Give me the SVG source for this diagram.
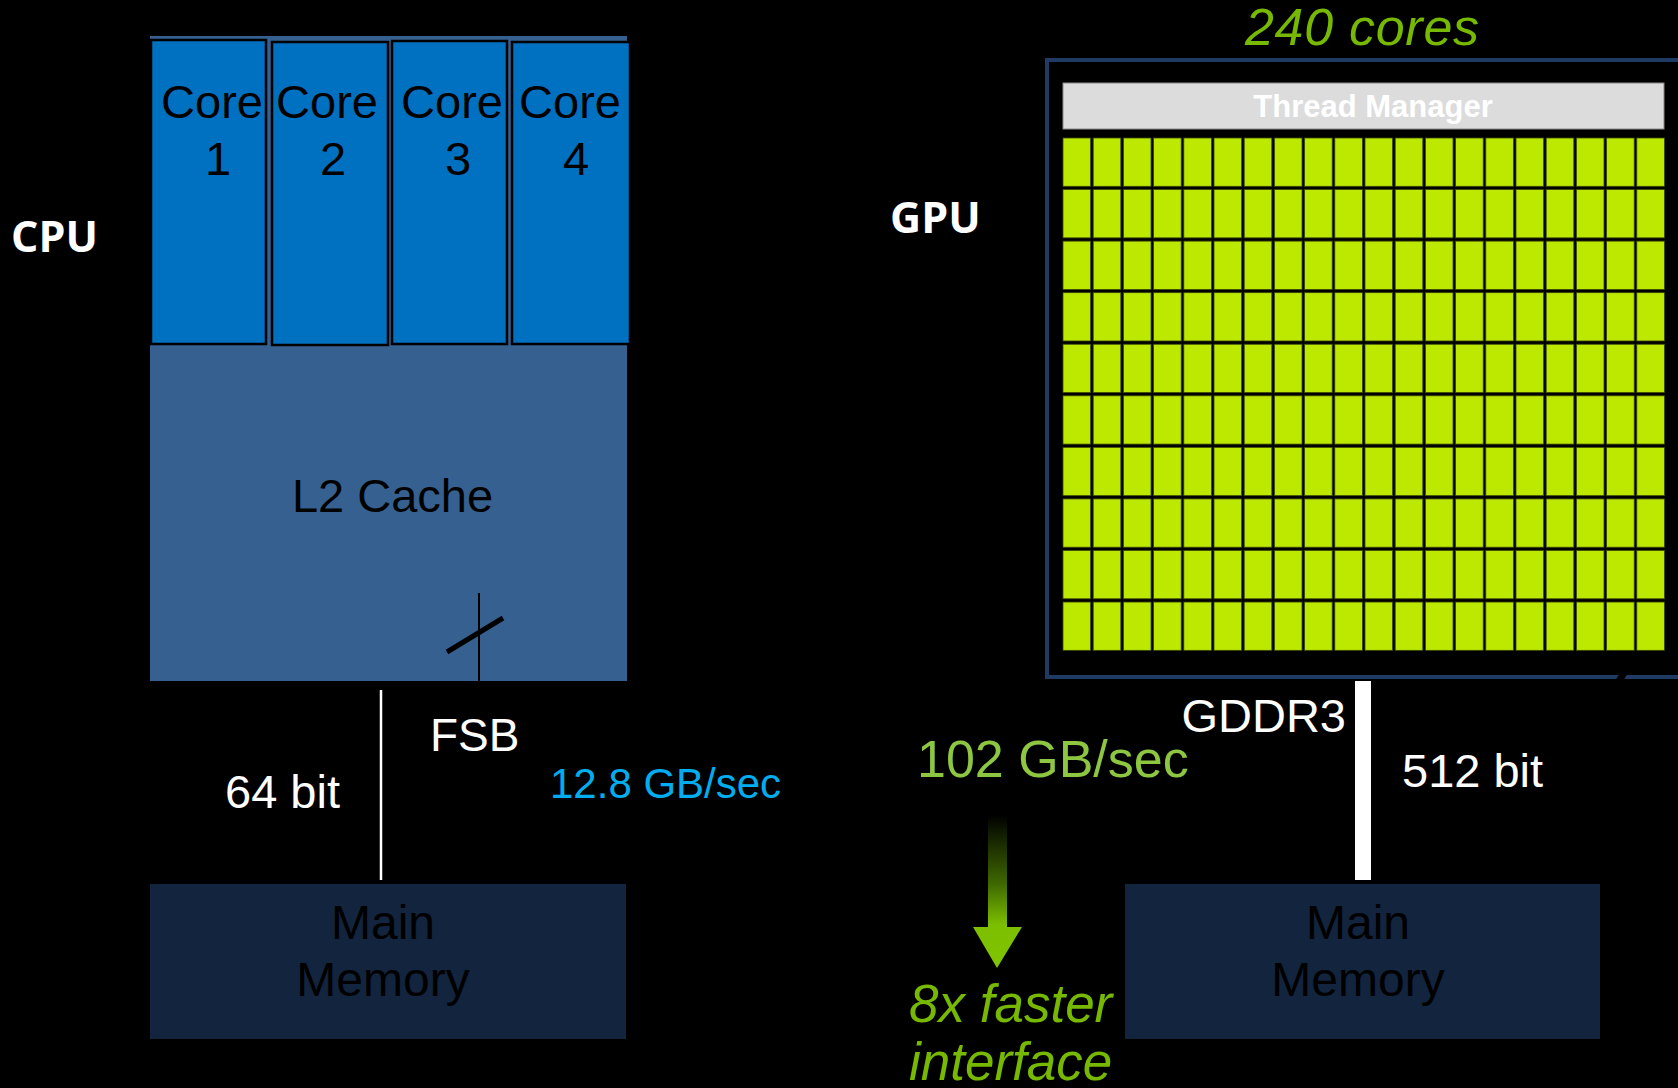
<svg xmlns="http://www.w3.org/2000/svg" xmlns:xlink="http://www.w3.org/1999/xlink" width="1678" height="1088" viewBox="0 0 1678 1088">
<style>
.t{font-family:"Liberation Sans",Arial,sans-serif}
.w{fill:#ffffff}
.k{fill:#000000}
.core{fill:#0070c0;stroke:#000;stroke-width:2.5}
.mem{fill:#12243e}
.lbl{font-family:"Open Sans","Noto Sans",sans-serif;font-weight:700;font-size:43px;fill:#fff}
.cell{fill:#bde800;stroke:#3c4a00;stroke-width:0.8}
.g{fill:#76b900;font-style:italic}
</style>
<defs>
<linearGradient id="arrowGrad" gradientUnits="userSpaceOnUse" x1="0" y1="815" x2="0" y2="968">
<stop offset="0" stop-color="#000000"/>
<stop offset="0.45" stop-color="#3f6800"/>
<stop offset="0.72" stop-color="#7cbf00"/>
<stop offset="1" stop-color="#80c400"/>
</linearGradient>
<g id="row">
<rect class="cell" x="1063" y="0" width="27.6" height="48.3"/>
<rect class="cell" x="1093.2" y="0" width="27.6" height="48.3"/>
<rect class="cell" x="1123.4" y="0" width="27.6" height="48.3"/>
<rect class="cell" x="1153.6" y="0" width="27.6" height="48.3"/>
<rect class="cell" x="1183.8" y="0" width="27.6" height="48.3"/>
<rect class="cell" x="1214" y="0" width="27.6" height="48.3"/>
<rect class="cell" x="1244.2" y="0" width="27.6" height="48.3"/>
<rect class="cell" x="1274.4" y="0" width="27.6" height="48.3"/>
<rect class="cell" x="1304.6" y="0" width="27.6" height="48.3"/>
<rect class="cell" x="1334.8" y="0" width="27.6" height="48.3"/>
<rect class="cell" x="1365" y="0" width="27.6" height="48.3"/>
<rect class="cell" x="1395.2" y="0" width="27.6" height="48.3"/>
<rect class="cell" x="1425.4" y="0" width="27.6" height="48.3"/>
<rect class="cell" x="1455.6" y="0" width="27.6" height="48.3"/>
<rect class="cell" x="1485.8" y="0" width="27.6" height="48.3"/>
<rect class="cell" x="1516" y="0" width="27.6" height="48.3"/>
<rect class="cell" x="1546.2" y="0" width="27.6" height="48.3"/>
<rect class="cell" x="1576.4" y="0" width="27.6" height="48.3"/>
<rect class="cell" x="1606.6" y="0" width="27.6" height="48.3"/>
<rect class="cell" x="1636.8" y="0" width="27.6" height="48.3"/>
</g>
</defs>
<rect x="0" y="0" width="1678" height="1088" fill="#000"/>

<text class="lbl" x="11" y="252">CPU</text>
<text class="lbl" x="890" y="233">GPU</text>

<g id="l2cache">
<rect x="150" y="36" width="477" height="645" fill="#36608f"/>
<text class="t k" x="392.5" y="512" font-size="47" text-anchor="middle">L2 Cache</text>
</g>
<g id="core1">
<rect class="core" x="151" y="40" width="115" height="304"/>
<text class="t k" x="212" y="118" font-size="47" text-anchor="middle">Core</text>
<text class="t k" x="218" y="175" font-size="47" text-anchor="middle">1</text>
</g>
<g id="core2">
<rect class="core" x="272" y="42" width="116" height="303"/>
<text class="t k" x="327" y="118" font-size="47" text-anchor="middle">Core</text>
<text class="t k" x="333" y="175" font-size="47" text-anchor="middle">2</text>
</g>
<g id="core3">
<rect class="core" x="392" y="41" width="115" height="303"/>
<text class="t k" x="452" y="118" font-size="47" text-anchor="middle">Core</text>
<text class="t k" x="458" y="175" font-size="47" text-anchor="middle">3</text>
</g>
<g id="core4">
<rect class="core" x="512" y="42" width="118" height="302"/>
<text class="t k" x="570" y="118" font-size="47" text-anchor="middle">Core</text>
<text class="t k" x="576" y="175" font-size="47" text-anchor="middle">4</text>
</g>

<g id="cpu-memory">
<rect class="mem" x="150" y="884" width="476" height="155"/>
<text class="t k" x="383" y="939" font-size="48" text-anchor="middle">Main</text>
<text class="t k" x="383" y="996" font-size="48" text-anchor="middle">Memory</text>
</g>

<g id="gpu">
<rect x="1047" y="60" width="700" height="617" fill="#000" stroke="#1f3b63" stroke-width="4"/>
<polygon points="1620,673 1628,673 1623,681 1615,681" fill="#000"/>
<rect x="1063" y="83" width="601" height="46" fill="#dcdcdc" stroke="#8a8a8a" stroke-width="1"/>
<text class="t w" x="1373" y="117" font-size="31" font-weight="700" text-anchor="middle">Thread Manager</text>
<use xlink:href="#row" y="138"/>
<use xlink:href="#row" y="189.56"/>
<use xlink:href="#row" y="241.12"/>
<use xlink:href="#row" y="292.68"/>
<use xlink:href="#row" y="344.24"/>
<use xlink:href="#row" y="395.8"/>
<use xlink:href="#row" y="447.36"/>
<use xlink:href="#row" y="498.92"/>
<use xlink:href="#row" y="550.48"/>
<use xlink:href="#row" y="602.04"/>
</g>

<g id="gpu-memory">
<rect class="mem" x="1125" y="884" width="475" height="155"/>
<text class="t k" x="1358" y="939" font-size="48" text-anchor="middle">Main</text>
<text class="t k" x="1358" y="996" font-size="48" text-anchor="middle">Memory</text>
</g>

<g id="connectors">
<line x1="479" y1="593" x2="479" y2="681" stroke="#000" stroke-width="2"/>
<line x1="447" y1="652" x2="503" y2="618" stroke="#000" stroke-width="5"/>
<line x1="381" y1="690" x2="381" y2="880" stroke="#fff" stroke-width="2.5"/>
<rect x="1355" y="681" width="16" height="199" fill="#fff"/>
<path d="M988,815 H1007 V927 H1022 L997,968 L973,927 H988 Z" fill="url(#arrowGrad)"/>
</g>

<text class="t w" x="430" y="751" font-size="46">FSB</text>
<text class="t w" x="225" y="808" font-size="47">64 bit</text>
<text class="t" x="550" y="798" font-size="42" fill="#00aeef">12.8 GB/sec</text>
<text class="t w" x="1346" y="732" font-size="47" text-anchor="end">GDDR3</text>
<text class="t w" x="1402" y="787" font-size="47">512 bit</text>
<text class="t" x="917" y="777" font-size="52" fill="#8dc641">102 GB/sec</text>
<text class="t g" x="1245" y="45" font-size="52" textLength="234" lengthAdjust="spacing">240 cores</text>
<text class="t g" x="909" y="1022" font-size="53">8x faster</text>
<text class="t g" x="909" y="1080" font-size="53">interface</text>
</svg>
